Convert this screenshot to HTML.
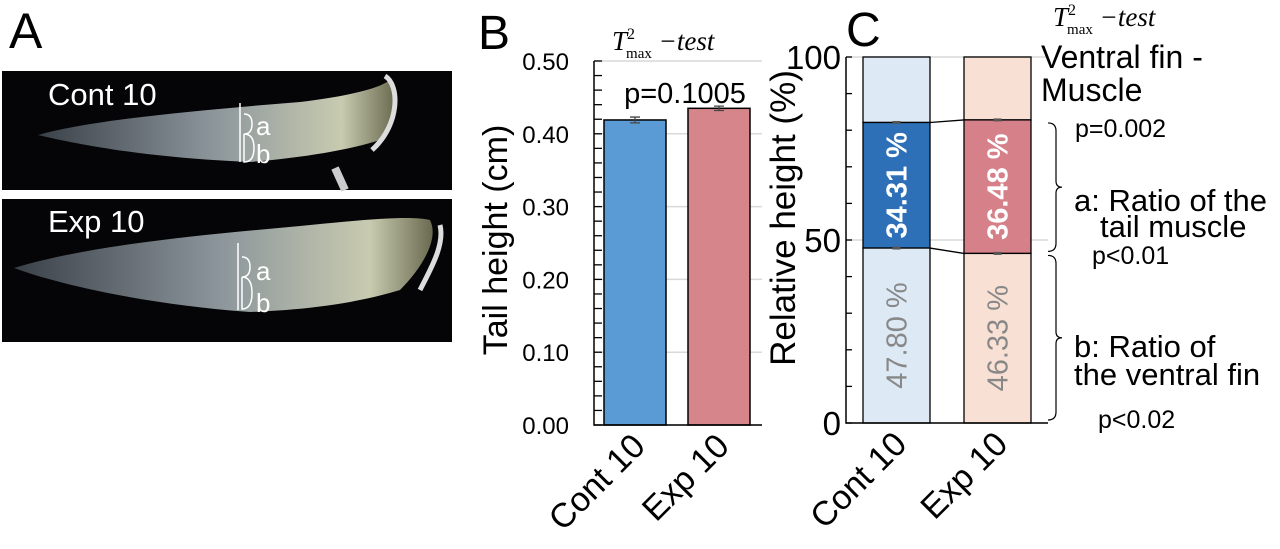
<!DOCTYPE html>
<html><head><meta charset="utf-8">
<style>
body{margin:0;background:#fff;width:1280px;height:549px;overflow:hidden}
svg{display:block;font-family:"Liberation Sans",Arial,sans-serif}
</style></head>
<body>
<svg width="1280" height="549" viewBox="0 0 1280 549">
<defs>
<linearGradient id="fishg" x1="0" x2="1" y1="0" y2="0">
<stop offset="0" stop-color="#3a4048"/><stop offset="0.5" stop-color="#8d979c"/><stop offset="0.85" stop-color="#c8cbb0"/><stop offset="1" stop-color="#6a6a50"/>
</linearGradient>
</defs>
<!-- Panel A -->
<text x="9" y="48" font-size="50">A</text>
<g>
<rect x="2" y="71" width="450" height="119" fill="#050507"/>
<path d="M38,135 C90,120 200,110 300,102 C350,96 380,88 390,80 C400,100 395,125 380,140 C350,150 300,158 250,162 C150,158 80,145 38,135Z" fill="url(#fishg)"/>
<path d="M385,76 C400,85 400,125 372,150" stroke="#ddd" stroke-width="5" fill="none"/>
<path d="M335,168 L345,190" stroke="#ccc" stroke-width="8"/>
<text x="48" y="105" font-size="31" fill="#fff">Cont 10</text>
<path d="M240,103 L240,162 M244,114 q8,0 8,10 q0,10 -8,10 m0,0 v28 q10,0 10,-14 q0,-14 -10,-14" stroke="#fff" stroke-width="1.5" fill="none"/>
<text x="256" y="135" font-size="26" fill="#fff">a</text>
<text x="256" y="163" font-size="26" fill="#fff">b</text>
</g>
<g>
<rect x="2" y="199" width="450" height="143" fill="#050507"/>
<path d="M14,268 C90,245 200,235 300,226 C360,220 410,215 430,220 C440,240 420,270 400,290 C350,305 300,310 250,312 C150,305 60,285 14,268Z" fill="url(#fishg)"/>
<path d="M440,225 C445,245 430,270 420,290" stroke="#ddd" stroke-width="5" fill="none"/>
<text x="48" y="232" font-size="31" fill="#fff">Exp 10</text>
<path d="M238,243 L238,310 M242,257 q8,0 8,10 q0,10 -8,10 m0,0 v32 q10,0 10,-16 q0,-16 -10,-16" stroke="#fff" stroke-width="1.5" fill="none"/>
<text x="256" y="280" font-size="26" fill="#fff">a</text>
<text x="256" y="312" font-size="26" fill="#fff">b</text>
</g>
<!-- Panel B -->
<text x="478" y="49" font-size="48">B</text>
<g id="chartB"></g>
<!-- Panel C -->
<text x="846" y="46" font-size="48">C</text>
<g id="chartC"></g>
</svg>
<script>
// ---- Chart B data ----
const catsB = ["Cont 10", "Exp 10"];
const valsB = [0.419, 0.435];
const errB = [0.004, 0.003];
const ticksB = ["0.00","0.10","0.20","0.30","0.40","0.50"];
const colorsB = ["#5b9bd5", "#d6868b"];
const pLabelB = "p=0.1005";
// ---- Chart C data ----
const catsC = ["Cont 10", "Exp 10"];
const finC = [47.80, 46.33];
const muscleC = [34.31, 36.48];
const ticksC = [0, 50, 100];
const NS = "http://www.w3.org/2000/svg";
function mk(parent, tag, attrs, text){
  const e = document.createElementNS(NS, tag);
  for (const k in attrs) e.setAttribute(k, attrs[k]);
  if (text !== undefined) e.textContent = text;
  parent.appendChild(e);
  return e;
}
const tHTML = 'T<tspan dy="-11" font-size="16" font-style="normal">2</tspan><tspan dx="-9" dy="19" font-size="15" font-style="normal">max</tspan><tspan dy="-8"> −test</tspan>';
// Chart B
(function(){
  const g = document.getElementById('chartB');
  const x0 = 594, x1 = 762, yTop = 61, yBot = 425, vmax = 0.5;
  const Y = v => yBot - (v / vmax) * (yBot - yTop);
  const barX = [604, 688], bw = 62;
  ticksB.forEach(t => {
    const v = parseFloat(t);
    const gl = mk(g, 'line', {x1:x0, x2:x1, y1:Y(v), y2:Y(v), stroke:'#d9d9d9', 'stroke-width':1.5});
    
    
    const tl = mk(g, 'text', {x:569, y:Y(v)+9, 'font-size':24, 'text-anchor':'end'}, t);
    
    
  });
  for (let v = 0; v <= 0.5001; v += 0.02) {
    mk(g, 'line', {x1:x0, x2:x0+8, y1:Y(v), y2:Y(v), stroke:'#000', 'stroke-width':1.3});
  }
  catsB.forEach((c, i) => {
    const b = mk(g, 'rect', {x:barX[i], y:Y(valsB[i]), width:bw, height:yBot - Y(valsB[i]), fill:colorsB[i], stroke:'#000', 'stroke-width':1.5});
    
    
    const cx = barX[i] + bw/2;
    mk(g, 'path', {d:`M${cx},${Y(valsB[i]+errB[i])}V${Y(valsB[i]-errB[i])}M${cx-5},${Y(valsB[i]+errB[i])}h10M${cx-5},${Y(valsB[i]-errB[i])}h10`, stroke:'#444', 'stroke-width':1.3});
    const lab = mk(g, 'text', {x:0, y:0, 'font-size':34, 'text-anchor':'end', transform:`translate(${cx+12},${448}) rotate(-45)`}, c);
    
    
  });
  mk(g, 'path', {d:`M${x0},${yTop}V${yBot}H${x1}`, stroke:'#000', 'stroke-width':1.5, fill:'none'});
  const yt = mk(g, 'text', {x:0, y:0, 'font-size':34, 'text-anchor':'middle', transform:'translate(507,240) rotate(-90)'}, 'Tail height (cm)');
  
  
  const p = mk(g, 'text', {x:685, y:103, 'font-size':29, 'text-anchor':'middle'}, pLabelB);
  
  
  const t = mk(g, 'text', {x:612, y:50, 'font-size':27, 'font-family':'Liberation Serif, serif', 'font-style':'italic'});
  t.innerHTML = tHTML;
  
  
})();
// Chart C
(function(){
  const g = document.getElementById('chartC');
  const x0 = 846, x1 = 1048, yTop = 57, yBot = 423;
  const Y = v => yBot - (v / 100) * (yBot - yTop);
  const barX = [863, 964], bw = 67;
  const light = ["#dde9f5", "#f8e1d4"], dark = ["#2e70b8", "#d6808a"];
  [0,50,100].forEach(v => mk(g, 'line', {x1:x0, x2:x1, y1:Y(v), y2:Y(v), stroke:'#d9d9d9', 'stroke-width':1.5}));
  ticksC.forEach(v => {
    const tl = mk(g, 'text', {x:841, y:Y(v)+12, 'font-size':33, 'text-anchor':'end'}, String(v));
    
    
  });
  for (let v = 0; v <= 100; v += 10) mk(g, 'line', {x1:x0, x2:x0+6, y1:Y(v), y2:Y(v), stroke:'#000', 'stroke-width':1.3});
  catsC.forEach((c, i) => {
    const cx = barX[i] + bw/2;
    const top = finC[i] + muscleC[i];
    const r1 = mk(g, 'rect', {x:barX[i], y:Y(100), width:bw, height:Y(top)-Y(100), fill:light[i], stroke:'#000', 'stroke-width':1.3});
    
    
    const r2 = mk(g, 'rect', {x:barX[i], y:Y(top), width:bw, height:Y(finC[i])-Y(top), fill:dark[i], stroke:'#000', 'stroke-width':1.3});
    
    
    const r3 = mk(g, 'rect', {x:barX[i], y:Y(finC[i]), width:bw, height:yBot-Y(finC[i]), fill:light[i], stroke:'#000', 'stroke-width':1.3});
    
    
    [top, finC[i]].forEach(v => mk(g, 'line', {x1:cx-4, x2:cx+4, y1:Y(v), y2:Y(v), stroke:'#555', 'stroke-width':3}));
    const mt = mk(g, 'text', {x:0, y:0, 'font-size':29, 'font-weight':'bold', fill:'#fff', 'text-anchor':'middle', transform:`translate(${cx+10},${Y(finC[i]+muscleC[i]/2)}) rotate(-90)`}, muscleC[i].toFixed(2) + ' %');
    
    
    const ft = mk(g, 'text', {x:0, y:0, 'font-size':29, fill:'#888', 'text-anchor':'middle', transform:`translate(${cx+10},${Y(finC[i]/2)}) rotate(-90)`}, finC[i].toFixed(2) + ' %');
    
    
    const lab = mk(g, 'text', {x:0, y:0, 'font-size':34, 'text-anchor':'end', transform:`translate(${cx+12},${446}) rotate(-45)`}, c);
    
    
  });
  const t0 = finC[0]+muscleC[0], t1 = finC[1]+muscleC[1];
  mk(g, 'line', {x1:barX[0]+bw, x2:barX[1], y1:Y(t0), y2:Y(t1), stroke:'#000', 'stroke-width':1.3});
  mk(g, 'line', {x1:barX[0]+bw, x2:barX[1], y1:Y(finC[0]), y2:Y(finC[1]), stroke:'#000', 'stroke-width':1.3});
  mk(g, 'path', {d:`M${x0},${yTop}V${yBot}H${x1}`, stroke:'#000', 'stroke-width':1.5, fill:'none'});
  const yt = mk(g, 'text', {x:0, y:0, 'font-size':35, 'text-anchor':'middle', transform:'translate(795,218) rotate(-90)'}, 'Relative height (%)');
  
  
  const brace = (ya, yb) => {const ym=(ya+yb)/2; return `M1048,${ya} q8,0 8,8 V${ym-6} q0,6 6,6 q-6,0 -6,6 V${yb-8} q0,8 -8,8`;};
  mk(g, 'path', {d:brace(Y(t1)+3, Y(finC[1])-2), stroke:'#000', 'stroke-width':1.2, fill:'none'});
  mk(g, 'path', {d:brace(Y(finC[1])+2, yBot-3), stroke:'#000', 'stroke-width':1.2, fill:'none'});
  const t = mk(g, 'text', {x:1053, y:26, 'font-size':27, 'font-family':'Liberation Serif, serif', 'font-style':'italic'});
  t.innerHTML = tHTML;
  
  
  const ann = [[1041,68,32,'Ventral fin -'],[1041,101,32,'Muscle'],[1075,137,25,'p=0.002'],[1074,211,31,'a: Ratio of the'],[1100,237,31,'tail muscle'],[1092,264,25,'p<0.01'],[1074,357,31,'b: Ratio of'],[1074,385,31,'the ventral fin'],[1098,428,25,'p<0.02']];
  ann.forEach(a => {
    const e = mk(g, 'text', {x:a[0], y:a[1], 'font-size':a[2]}, a[3]);
    
    
  });
})();
</script>
</body></html>
